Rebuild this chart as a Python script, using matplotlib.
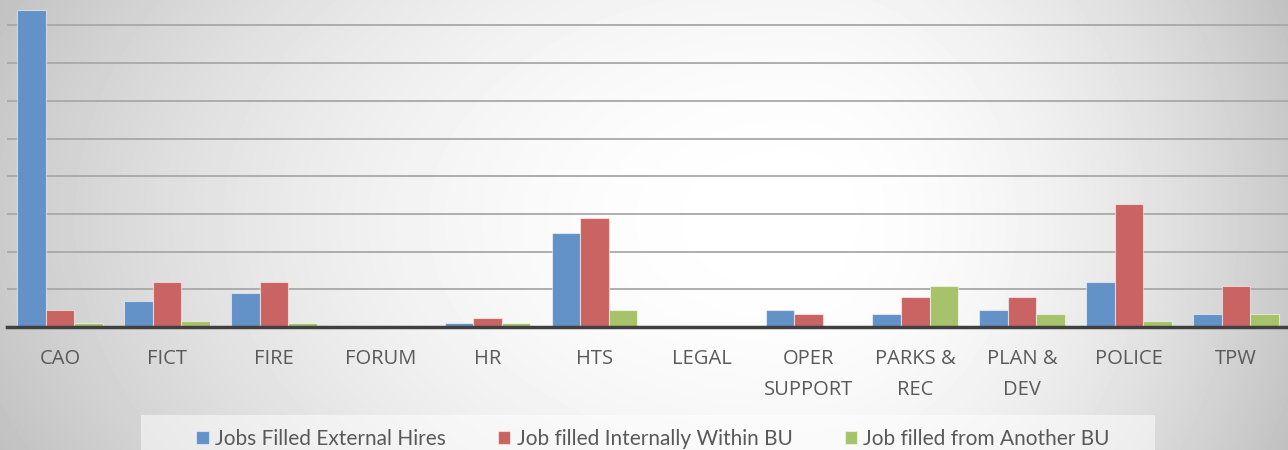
import numpy as np
import matplotlib
matplotlib.use("Agg")
import matplotlib.pyplot as plt
from matplotlib.patches import Rectangle, Patch

# data
units = ["CAO", "FICT", "FIRE", "FORUM", "HR", "HTS", "LEGAL", "OPER\nSUPPORT",
         "PARKS &\nREC", "PLAN &\nDEV", "POLICE", "TPW"]
external = [84, 7, 9, 0, 1, 25, 0, 4.5, 3.5, 4.5, 12, 3.5]
internal = [4.5, 12, 12, 0, 2.5, 29, 0, 3.5, 8, 8, 32.5, 11]
another_bu = [1, 1.5, 1, 0, 1, 4.5, 0, 0, 11, 3.5, 1.5, 3.5]
series_names = ["Jobs Filled External Hires", "Job filled Internally Within BU",
                "Job filled from Another BU"]
series_colors = ["#6392c8", "#c96463", "#a6c36c"]

W, H = 1288, 450
fig = plt.figure(figsize=(W / 100, H / 100), dpi=100)

# radial grey-to-white background
bg = fig.add_axes([0, 0, 1, 1], zorder=0)
yy, xx = np.mgrid[0:H, 0:W]
cx, cy = 790, 220
sx = np.where(xx < cx, 800.0, 500.0)
d = np.hypot((xx - cx) / sx, (yy - cy) / 520.0)
grey = 1 - 0.21 * np.clip(d, 0, 1.4) ** 2.0
bg.imshow(grey, cmap="gray", vmin=0, vmax=1, aspect="auto", interpolation="bilinear")
bg.axis("off")

# legend strip
fig.patches.append(Rectangle((141 / W, 0), 1014 / W, 35 / H, transform=fig.transFigure,
                             facecolor="white", alpha=0.5, edgecolor="none", zorder=1))

ax = fig.add_axes([6.5 / W, (H - 327) / H, 1283 / W, 322.3 / H], zorder=2)
ax.set_facecolor("none")

x = np.arange(len(units))
bw = 0.267
for i, (vals, col) in enumerate(zip([external, internal, another_bu], series_colors)):
    ax.bar(x + (i - 1) * bw, vals, width=bw, color=col,
           edgecolor=(1, 1, 1, 0.55), linewidth=0.8, zorder=3)

ax.set_xlim(-0.5, len(units) - 0.5)
ax.set_ylim(0, 85.5)
ax.set_yticks(np.arange(0, 90, 10))
ax.yaxis.grid(True, color="#a8a8a8", linewidth=1.3)
ax.set_axisbelow(True)
ax.tick_params(axis="y", left=False, labelleft=False)
ax.tick_params(axis="x", length=0, pad=16)
ax.set_xticks(x)
ax.set_xticklabels(units, fontsize=14.5, family=["Open Sans", "DejaVu Sans"],
                   color="#595959", linespacing=1.7)
for s in ["left", "right", "top"]:
    ax.spines[s].set_visible(False)
ax.spines["bottom"].set_color("#404040")
ax.spines["bottom"].set_linewidth(2.5)
ax.spines["bottom"].set_zorder(4)

handles = [Patch(facecolor=c, edgecolor=(1, 1, 1, 0.5), linewidth=0.8) for c in series_colors]
fig.legend(handles, series_names, loc="center", bbox_to_anchor=(653 / W, 1 - 439 / H),
           ncol=3, frameon=False, handlelength=0.6, handleheight=0.6,
           handletextpad=0.3, columnspacing=2.5, borderaxespad=0,
           prop={"family": ["Lato", "DejaVu Sans"], "size": 15},
           labelcolor="#595959")

fig.savefig("out.png", dpi=100)
